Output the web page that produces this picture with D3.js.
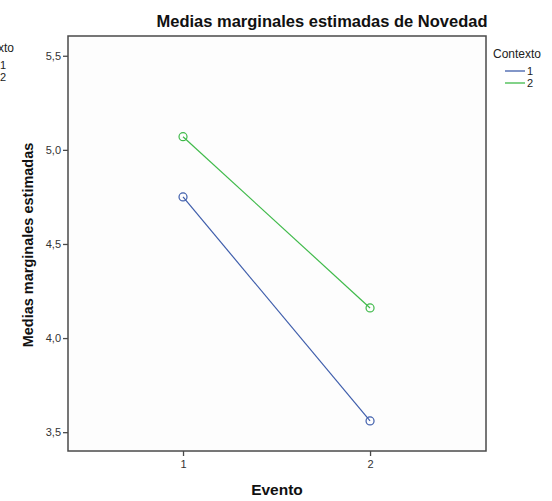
<!DOCTYPE html>
<html>
<head>
<meta charset="utf-8">
<script src="https://cdn.jsdelivr.net/npm/d3@7/dist/d3.min.js"></script>
<style>
  body { margin: 0; background: #fff; }
  svg text { font-family: "Liberation Sans", Arial, sans-serif; }
</style>
</head>
<body>
<div id="chart"></div>
<script>
(function(){

    //data
    var eventos = [1, 2];
    var contextos = ["1", "2"];
    var medias1 = [4.75, 3.56];
    var medias2 = [5.07, 4.16];
    var yTicks = [3.5, 4.0, 4.5, 5.0, 5.5];
    var colores = ["#3e5dab", "#3fba4a"];

    var width = 552;
    var height = 501;
    var box = {left: 68, top: 36, right: 486, bottom: 451};

    var svg = d3.select("#chart").append("svg")
        .attr("width", width)
        .attr("height", height);

    var x = d3.scaleLinear().domain([0.385, 2.62]).range([box.left, box.right]);
    var y = d3.scaleLinear().domain([3.4, 5.605]).range([box.bottom, box.top]);

    //plot area
    svg.append("rect")
        .attr("x", box.left)
        .attr("y", box.top)
        .attr("width", box.right - box.left)
        .attr("height", box.bottom - box.top)
        .attr("fill", "#fdfdfd")
        .attr("stroke", "#4a4a4a")
        .attr("stroke-width", 1.5);

    var fmt = function(d){ return d3.format(".1f")(d).replace(".", ","); };

    var yAxis = svg.append("g")
        .attr("transform", "translate(" + box.left + ",0)")
        .call(d3.axisLeft(y).tickValues(yTicks).tickFormat(fmt).tickSize(5).tickPadding(2));
    var xAxis = svg.append("g")
        .attr("transform", "translate(0," + box.bottom + ")")
        .call(d3.axisBottom(x).tickValues(eventos).tickFormat(d3.format("d")).tickSize(5).tickPadding(4));

    [yAxis, xAxis].forEach(function(a){
        a.select(".domain").remove();
        a.selectAll("line").attr("stroke", "#4a4a4a").attr("stroke-width", 1.3);
        a.selectAll("text").attr("fill", "#333").style("font-size", "11px")
            .style("font-family", "'Liberation Sans', Arial, sans-serif");
    });

    //series
    var series = [medias1, medias2];
    var line = d3.line()
        .x(function(d, i){ return x(eventos[i]); })
        .y(function(d){ return y(d); });

    series.forEach(function(s, k){
        svg.append("path")
            .attr("d", line(s))
            .attr("fill", "none")
            .attr("stroke", colores[k])
            .attr("stroke-width", 1.2);
        svg.append("g").selectAll("circle")
            .data(s).enter().append("circle")
            .attr("cx", function(d, i){ return x(eventos[i]); })
            .attr("cy", function(d){ return y(d); })
            .attr("r", 4)
            .attr("fill", "none")
            .attr("stroke", colores[k])
            .attr("stroke-width", 1.2);
    });

    //titles
    svg.append("text")
        .attr("x", 322).attr("y", 27)
        .attr("text-anchor", "middle")
        .attr("font-weight", "bold")
        .attr("font-size", "16.5px")
        .attr("fill", "#111")
        .text("Medias marginales estimadas de Novedad");

    svg.append("text")
        .attr("transform", "translate(33," + 245 + ") rotate(-90)")
        .attr("text-anchor", "middle")
        .attr("font-weight", "bold")
        .attr("font-size", "14.5px")
        .attr("fill", "#111")
        .text("Medias marginales estimadas");

    svg.append("text")
        .attr("x", (box.left + box.right) / 2).attr("y", 495)
        .attr("text-anchor", "middle")
        .attr("font-weight", "bold")
        .attr("font-size", "15.5px")
        .attr("fill", "#111")
        .text("Evento");

    //legend (plus the clipped copy at the left edge)
    function legend(ox, oy){
        var g = svg.append("g").attr("transform", "translate(" + ox + "," + oy + ")");
        g.append("text").attr("x", 0).attr("y", 0)
            .attr("font-size", "12px").attr("fill", "#222").text("Contexto");
        contextos.forEach(function(c, i){
            g.append("line")
                .attr("x1", 12).attr("x2", 32)
                .attr("y1", 13 + i * 12).attr("y2", 13 + i * 12)
                .attr("stroke", colores[i]).attr("stroke-width", 1.3);
            g.append("text").attr("x", 34).attr("y", 17 + i * 12)
                .attr("font-size", "11px").attr("fill", "#222").text(c);
        });
    }
    legend(493, 58);
    legend(-34, 52);

})();
</script>
</body>
</html>
